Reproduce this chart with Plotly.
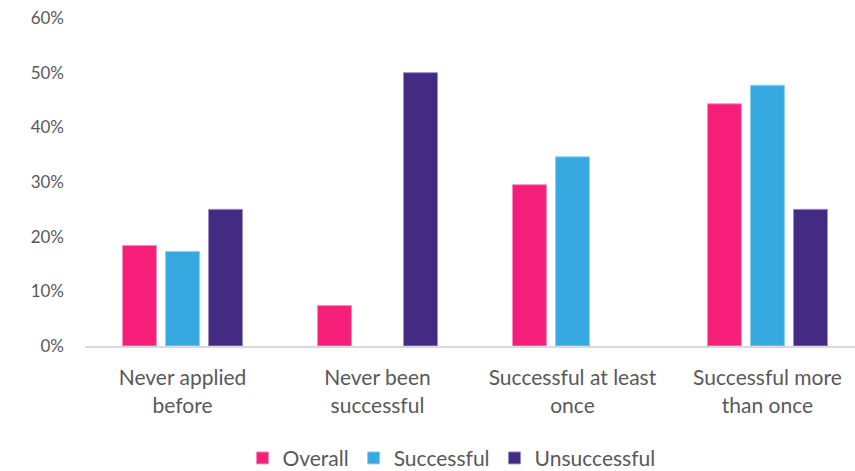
import plotly.graph_objects as go

# Share of respondents by application history
categories = ["Never applied<br>before", "Never been<br>successful",
              "Successful at least<br>once", "Successful more<br>than once"]
overall = [0.184, 0.074, 0.295, 0.443]
successful = [0.173, None, 0.346, 0.477]
unsuccessful = [0.25, 0.50, None, 0.25]

series_names = ["Overall", "Successful", "Unsuccessful"]
series_colors = ["#F51F7A", "#36A9E1", "#432A83"]
series_edges = ["#F88DBB", "#8FD0F0", "#9E8FC4"]
series_values = [overall, successful, unsuccessful]

y_tickvals = [0, 0.1, 0.2, 0.3, 0.4, 0.5, 0.6]

text_color = "#595959"
font_family = "Lato, 'Open Sans', sans-serif"

fig = go.Figure()
for name, vals, col, edge in zip(series_names, series_values, series_colors, series_edges):
    fig.add_trace(go.Bar(
        x=categories, y=vals, name=name,
        marker=dict(color=col, line=dict(color=edge, width=1)),
    ))

fig.update_layout(
    width=855, height=471,
    margin=dict(l=85, r=0, t=18, b=125),
    paper_bgcolor="white", plot_bgcolor="white",
    barmode="group", bargap=0.338, bargroupgap=0.21,
    font=dict(family=font_family, color=text_color, size=18),
    showlegend=True,
    legend=dict(orientation="h", x=0.528, xanchor="center", xref="container",
                y=0.027, yanchor="middle", yref="container",
                font=dict(size=21, color=text_color),
                itemwidth=30, traceorder="normal"),
    xaxis=dict(range=[-0.5, 3.449], showgrid=False, showline=True, automargin=False,
               linecolor="#D9D9D9", linewidth=2, ticks="", ticklabelstandoff=12,
               tickfont=dict(size=21, color=text_color)),
    yaxis=dict(range=[0, 0.6], tickvals=y_tickvals, tickformat=".0%", automargin=False,
               showgrid=False, zeroline=False, showline=False,
               ticklabelstandoff=20, tickfont=dict(size=17, color=text_color)),
)

fig.write_html("out.html")
